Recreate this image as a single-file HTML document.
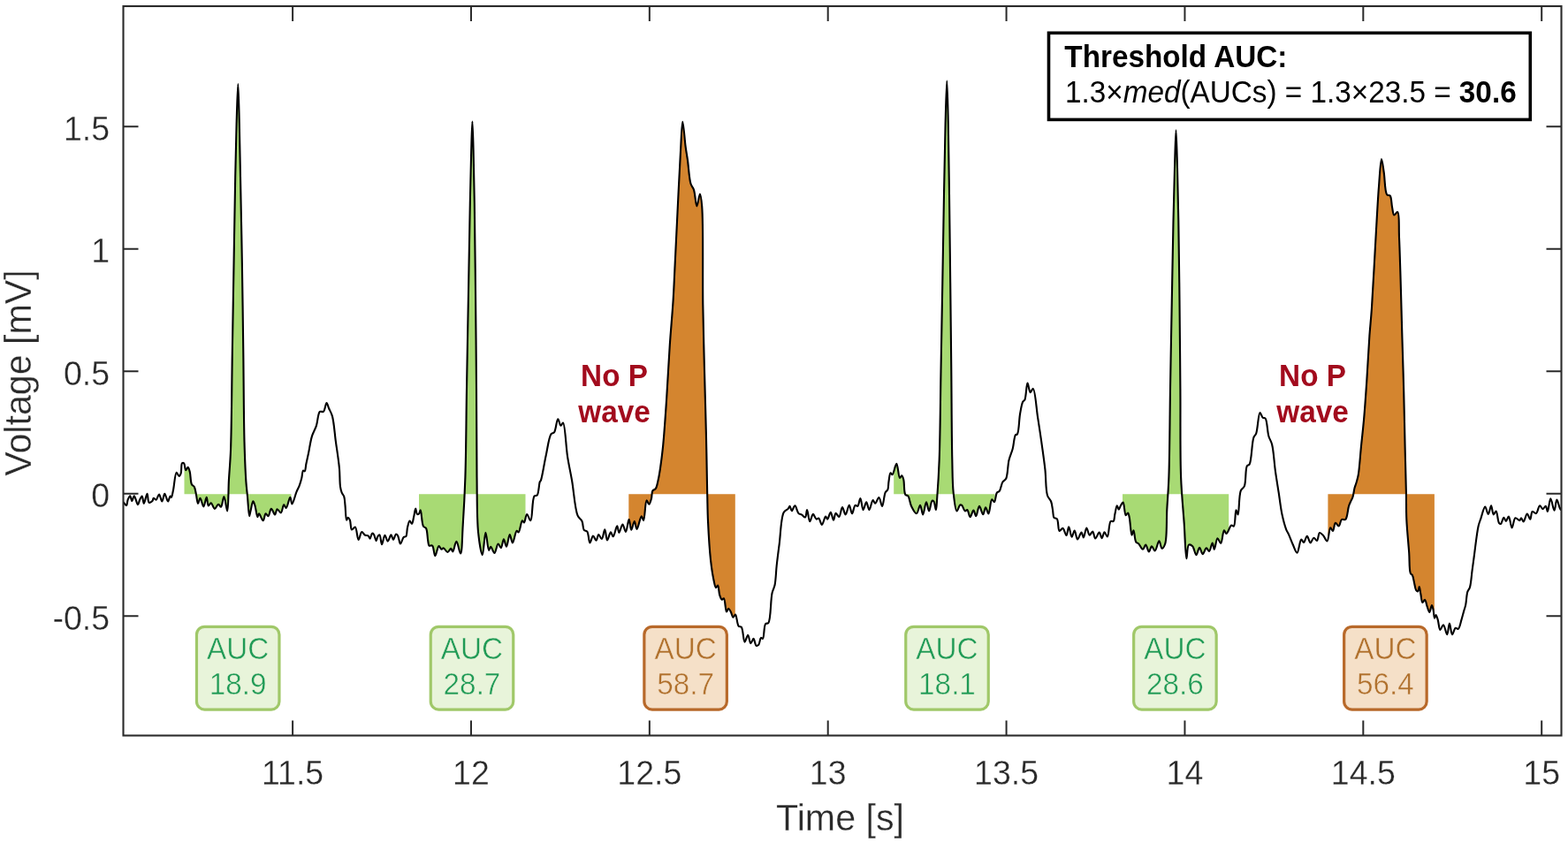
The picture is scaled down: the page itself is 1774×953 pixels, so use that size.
<!DOCTYPE html>
<html><head><meta charset="utf-8"><title>Threshold AUC</title>
<style>html,body{margin:0;padding:0;background:#fff;}body{width:1774px;height:953px;overflow:hidden;}svg{display:block;} text{font-family:"Liberation Sans",Arial,Helvetica,sans-serif;}</style>
</head><body>
<svg width="1774" height="953" viewBox="0 0 1774 953">
<rect x="0" y="0" width="1774" height="953" fill="#fff"/>
<defs>
<clipPath id="c0"><rect x="208.5" y="0" width="121" height="953"/></clipPath>
<clipPath id="c1"><rect x="474" y="0" width="120.5" height="953"/></clipPath>
<clipPath id="c2"><rect x="711.3" y="0" width="120.5" height="953"/></clipPath>
<clipPath id="c3"><rect x="1011.2" y="0" width="114.3" height="953"/></clipPath>
<clipPath id="c4"><rect x="1270" y="0" width="120.2" height="953"/></clipPath>
<clipPath id="c5"><rect x="1502.4" y="0" width="120.5" height="953"/></clipPath>
<clipPath id="ax"><rect x="139.5" y="7" width="1627" height="825.5"/></clipPath>
</defs>
<path clip-path="url(#c0)" d="M202.6,539C203.3,537.87 204.16,537.14 204.7,535.6C205.6,533 204.73,525.43 206,524.3C206.55,523.81 207.52,523.85 208.1,524.3C209.25,525.19 209.22,532.01 210.2,532.2C210.89,532.34 211.98,528.8 212.7,528.9C213.55,529.02 214.2,532.04 214.8,534.3C215.74,537.82 215.49,545.41 216.9,548.2C217.66,549.71 219.03,549.74 219.8,551.1C220.92,553.07 221.23,556.54 221.9,559.5C222.64,562.8 223.11,569.92 224,570C224.71,570.06 225.58,563.7 226.5,563.7C227.64,563.7 229.11,573.44 230.3,573.4C231.52,573.36 232.77,562.85 233.7,562.9C234.58,562.94 234.65,572.2 235.8,572.5C236.57,572.7 237.7,569.12 238.7,569.2C240.04,569.31 241.43,575.81 242.9,575.9C244.24,575.99 245.8,570.85 247.1,570.8C248.13,570.76 249.15,574.01 250,573.8C251.47,573.44 252.29,561.97 253.4,562C254.7,562.03 256.29,578.48 257.2,578.4C258.51,578.28 258.26,555.1 258.9,543.6C259.53,532.3 260.43,524.44 261,510C262.03,483.91 262.2,435.79 262.8,400C263.37,365.87 263.93,333.33 264.5,300C265.07,266.67 265.61,229.1 266.2,200C266.65,177.46 267.03,158.56 267.6,140C268.09,123.92 268.77,95 269.3,95C269.83,95 270.37,123.92 270.8,140C271.29,158.56 271.56,177.46 272,200C272.57,229.1 273.35,266.67 273.9,300C274.45,333.33 274.87,366.67 275.3,400C275.73,433.33 275.78,473.2 276.5,500C276.99,518.02 277.62,533.79 278.4,545.2C278.88,552.17 279.43,556.01 280,562C280.65,568.89 281.29,584.14 282.1,584.2C282.51,584.23 282.87,580.93 283.4,578.8C284.17,575.7 285.27,567.49 286.3,567.4C286.97,567.34 287.73,570.03 288.4,572C289.49,575.21 290.42,585.02 291.4,585.1C291.94,585.15 292.26,581.35 293,581.3C294.11,581.23 296.42,589.42 297.7,589.3C298.93,589.19 299.38,581.57 300.6,581.3C301.45,581.11 302.62,584.38 303.5,584.2C304.81,583.93 305.58,575.92 306.9,575.8C308.14,575.69 309.96,582.6 311.1,582.5C312.16,582.4 312.42,576.44 313.6,576.2C314.7,575.97 316.63,580.66 317.8,580.4C319.31,580.07 320.01,571.34 321.2,571.2C322.01,571.11 322.84,575.1 323.7,575C325.16,574.84 327.12,562.75 328.3,562.8C329.22,562.84 329.47,570.36 330.4,570.4C331.65,570.45 333.73,561.4 335.4,556.9L335.4,559.3 L202.6,559.3 Z" fill="#a8da74" stroke="none"/>
<path clip-path="url(#c1)" d="M466,592.8C466.7,590.3 467.44,587.97 468.1,585.3C468.85,582.28 469.5,575.62 470.2,575.6C470.77,575.59 470.92,581.28 471.9,581.9C472.46,582.25 473.43,581.97 474,581.5C474.83,580.81 475.14,577.24 475.7,577.3C476.84,577.42 477.09,592.81 479,595.8C479.84,597.12 481.21,596.63 482,597.9C483.56,600.4 483.5,608.38 484.2,612C484.65,614.3 484.46,616.78 485.5,617.6C486.32,618.25 488.12,616.85 489.1,617.6C490.9,618.97 491.06,629.14 492.3,629.2C493.53,629.26 494.97,618.36 496.5,618.1C497.48,617.93 498.62,621.69 499.6,621.8C500.33,621.88 500.89,620.14 501.7,620.2C502.99,620.29 504.95,625.04 506.4,625C507.73,624.97 509.09,620.7 510.1,620.8C510.97,620.88 511.46,624.47 512.2,624.4C513.47,624.29 514.98,612.89 516.4,612.9C517.94,612.91 519.93,626.65 521.1,626.5C522.85,626.28 522.91,606.59 523.7,594.5C524.73,578.74 525.71,560.91 526.4,540C527.33,511.69 527.42,474.13 528,440C528.61,404.21 529.35,365.79 530,330C530.62,295.87 531.2,259.1 531.8,230C532.27,207.46 532.69,186.96 533.2,170C533.58,157.52 534,137.5 534.4,137.5C534.8,137.5 535.24,157.52 535.6,170C536.08,186.96 536.44,207.46 536.8,230C537.27,259.1 537.64,295.87 538,330C538.38,365.79 538.75,404.21 539,440C539.24,474.13 539.05,510.5 539.5,540C539.86,563.42 539.39,586.8 541.1,603C542.19,613.31 544.42,628.13 545.8,628.1C547.18,628.07 548.11,602.93 549.4,602.9C550.56,602.88 551.72,622.7 553.1,622.9C553.77,622.99 554.35,618.72 555.2,618.7C556.34,618.67 558.09,626.09 559.4,626C560.92,625.89 562.14,615.66 563.6,615.5C564.64,615.39 565.86,620.34 566.8,620.2C568.07,620.01 568.83,610.33 569.9,610.3C570.9,610.28 571.99,618.75 573,618.7C574.27,618.64 575.45,605.04 576.7,605C577.75,604.97 578.73,614.5 579.9,614.5C581.31,614.5 582.98,601.29 584.6,600.8C585.29,600.59 586.03,602.61 586.7,602.4C588.24,601.92 589.43,589.66 590.9,589.3C591.58,589.13 592.35,591.56 593,591.4C594.19,591.12 594.81,582.13 596.1,582C597.29,581.88 598.9,586.87 600.3,589.3L600.3,559.3 L466,559.3 Z" fill="#a8da74" stroke="none"/>
<path clip-path="url(#c2)" d="M704.4,593.5C705.6,596.33 706.91,602.08 708,602C709.38,601.89 710.53,587.68 711.6,587.7C712.58,587.72 713.1,599.72 714.2,599.8C715.21,599.87 716.73,589.97 717.8,590C718.81,590.03 719.4,598.87 720.5,598.9C721.93,598.94 724.33,584.27 725.8,584.2C726.67,584.16 727.4,589.2 728.1,589.1C729.55,588.89 729.95,566.63 731.6,566.3C732.39,566.14 733.46,570.87 734.3,570.8C735.28,570.72 736.34,566.51 737,564.1C737.72,561.47 737.16,557.51 738.3,555.6C739.13,554.22 740.94,554.29 741.9,552.9C743.31,550.86 743.8,547.02 744.6,543.6C745.55,539.52 746.21,535.28 747,530C748.09,522.72 749.2,514.04 750.2,503.9C751.59,489.83 752.8,471.17 754,453.4C755.34,433.56 756.45,410.22 757.8,390.4C759,372.66 760.61,355.84 761.6,340C762.48,325.9 762.88,314.66 763.6,300C764.48,282.09 765.48,260.93 766.5,240.3C767.6,218.08 768.87,190.01 770,171.1C770.78,157.96 771.3,137.72 772.3,137.7C773.23,137.68 774.61,158.46 775.7,166.5C776.49,172.32 777.19,175.79 778,181.5C779.08,189.08 779.68,202.13 781.5,208C782.48,211.16 784.01,211.95 785,214.9C786.55,219.49 787.16,233.36 788.4,233.4C789.48,233.44 790.93,219.46 791.9,219.5C792.86,219.54 793.6,226.52 794.2,233.4C795.89,252.74 794.77,311.77 795.3,344.7C795.73,370.99 796.31,391.59 796.9,415.6C797.51,440.4 798.34,466.66 798.9,491.2C799.43,514.49 799.79,541.08 800.2,559.3C800.48,571.51 800.47,578.79 801,589.9C801.63,603.2 802.68,621.61 804,633.7C804.94,642.31 806.05,649.92 807.3,655.7C808.13,659.55 808.91,664.98 810,665.2C810.64,665.33 811.51,662.45 812.1,662.6C813.18,662.87 813.21,670.67 814.2,673.6C814.91,675.71 815.82,678.56 816.8,678.8C817.45,678.96 818.28,677.06 818.9,677.3C820.42,677.9 820.77,692.3 822,692.5C822.65,692.6 823.32,688.84 824.1,688.8C824.91,688.75 825.99,691.05 826.8,692.5C827.79,694.27 828.39,698.65 829.4,698.8C830.18,698.91 831.2,695.43 832,695.6C833.46,695.9 833.87,706.9 835.7,708.8C836.59,709.73 837.77,709.47 838.8,709.8L838.8,559.3 L704.4,559.3 Z" fill="#d4852f" stroke="none"/>
<path clip-path="url(#c3)" d="M1004.4,554.1C1004.73,551.3 1004.93,548.65 1005.4,545.7C1005.93,542.39 1006.39,535.54 1007.5,535.2C1008.09,535.02 1008.89,537.45 1009.6,537.3C1011.11,536.97 1012.95,524.61 1014.3,524.7C1015.8,524.8 1016.55,540.68 1018,541C1018.66,541.15 1019.45,538.24 1020.1,538.3C1020.86,538.38 1021.62,540.56 1022.2,542.5C1023.33,546.25 1022.49,557.19 1024.3,559.8C1025.11,560.97 1026.5,560.33 1027.4,561.4C1029.09,563.4 1029.4,569.57 1031.1,573C1032.65,576.13 1035.24,581.46 1036.9,581.3C1038.58,581.14 1039.9,571.82 1041.1,571.9C1042.34,571.98 1043.14,582.41 1044.2,582.4C1045.43,582.38 1046.76,568.22 1048,568.2C1049.06,568.18 1050.04,578.5 1051.1,578.5C1052.23,578.5 1053.19,567.3 1054.6,566.7C1055.19,566.45 1055.95,567 1056.5,567.7C1057.67,569.18 1058.29,577.15 1058.9,577.1C1059.65,577.04 1059.83,568.64 1060.3,562.5C1061.1,552.04 1062.06,537.16 1062.7,520C1063.68,493.7 1063.9,453.33 1064.5,420C1065.1,386.67 1065.72,353.33 1066.3,320C1066.88,286.67 1067.42,251.48 1068,220C1068.52,191.85 1068.96,163.35 1069.6,140C1070.1,121.82 1070.77,91.5 1071.3,91.5C1071.83,91.5 1072.38,121.82 1072.8,140C1073.34,163.35 1073.62,191.85 1074,220C1074.42,251.48 1074.82,286.67 1075.2,320C1075.58,353.33 1075.95,386.67 1076.3,420C1076.65,453.33 1076.7,494.62 1077.3,520C1077.67,535.61 1077.53,547.12 1078.7,557.8C1079.57,565.77 1080.74,578.22 1082.5,578.5C1083.58,578.67 1085.02,572.09 1086.3,571.5C1086.93,571.21 1087.57,571.44 1088.2,571.9C1089.44,572.81 1090.61,578.15 1091.9,578.5C1092.68,578.71 1093.56,576.85 1094.3,577.1C1095.6,577.54 1096.41,585.15 1097.6,585.2C1098.78,585.25 1100.26,577.56 1101.4,577.6C1102.44,577.63 1103.25,584.24 1104.2,584.2C1105.43,584.15 1106.61,572.97 1108,572.9C1109.29,572.84 1110.98,582.34 1112.2,582.3C1113.31,582.26 1114.04,574.35 1115.1,574.3C1116.12,574.26 1117.39,581.5 1118.4,581.4C1119.86,581.25 1120.52,565.76 1122.2,565.3C1123.03,565.07 1124.2,568.41 1125,568.2C1126.3,567.86 1126.38,559.77 1127.8,557.8C1128.61,556.68 1129.73,556.53 1130.7,555.9L1130.7,559.3 L1004.4,559.3 Z" fill="#a8da74" stroke="none"/>
<path clip-path="url(#c4)" d="M1263.8,572.3C1264.47,573.77 1265.12,576.69 1265.8,576.7C1266.48,576.71 1267.09,573.68 1267.9,572.3C1268.69,570.95 1269.82,568.34 1270.6,568.5C1272.01,568.79 1272.27,582.82 1273.7,583.2C1274.4,583.39 1275.45,580.36 1276.1,580.5C1276.91,580.67 1277.26,583.5 1277.8,585.9C1278.81,590.4 1279.38,605.58 1280.5,605.7C1281.1,605.76 1281.86,600.15 1282.5,600.2C1283.47,600.27 1283.61,611.01 1285.2,613.4C1286.04,614.66 1287.25,614.49 1288.3,615.5C1289.83,616.96 1291.62,621.86 1293,621.8C1294.21,621.75 1295.15,616.54 1296.2,616.6C1297.46,616.67 1298.71,624.49 1299.9,624.5C1300.97,624.51 1301.83,618.29 1303,618.2C1304.11,618.11 1305.5,623.53 1306.7,623.4C1308.34,623.22 1310.01,612.37 1311.4,612.4C1312.6,612.42 1313.34,620.65 1314.6,620.8C1315.66,620.92 1317.26,618.27 1318.2,615.5C1320.5,608.67 1319.59,589.45 1320.3,576.7C1320.99,564.3 1321.84,555.24 1322.4,540C1323.32,514.86 1323.43,473.33 1324,440C1324.57,406.67 1325.2,372.46 1325.8,340C1326.37,309.21 1326.91,276.97 1327.5,250C1327.98,227.98 1328.45,208.3 1329,190C1329.46,174.56 1330,147.3 1330.5,147.3C1331,147.3 1331.56,174.56 1332,190C1332.52,208.3 1332.91,227.98 1333.3,250C1333.77,276.97 1334.16,309.21 1334.5,340C1334.86,372.46 1335.13,406.67 1335.4,440C1335.67,473.33 1335.04,512 1336.1,540C1336.87,560.31 1338.59,576.21 1339.7,592.5C1340.67,606.68 1341.21,632.24 1342.4,632.3C1343.15,632.34 1342.98,617.76 1345,616.6C1346.07,615.98 1347.99,617.04 1349.2,618.2C1351.06,620 1352.03,628.09 1353.4,628.1C1354.66,628.11 1355.85,619.72 1357.1,619.7C1358.28,619.68 1359.39,627.03 1360.7,627.1C1361.99,627.16 1363.51,620.42 1364.9,620.3C1365.98,620.21 1367.13,624.08 1368.1,623.9C1369.5,623.64 1370.71,614.46 1371.7,614.5C1372.56,614.54 1373,621.8 1373.8,621.8C1374.86,621.8 1375.99,609.41 1377.5,609.2C1378.59,609.05 1380.13,615.17 1381.2,615C1382.79,614.74 1383.44,600.57 1384.9,600.3C1385.7,600.15 1386.5,604.03 1387.5,604C1389.07,603.95 1391.39,595.23 1393.2,594.6C1394.12,594.28 1395,595.27 1395.9,595.6L1395.9,559.3 L1263.8,559.3 Z" fill="#a8da74" stroke="none"/>
<path clip-path="url(#c5)" d="M1497,606C1498.5,608.17 1500.26,612.73 1501.5,612.5C1503.24,612.18 1503.65,597.73 1505.2,597.4C1506.04,597.22 1507.18,601.15 1508,601C1509.2,600.78 1509.51,592.04 1510.9,591.7C1511.93,591.45 1513.6,595.71 1514.7,595.5C1516.06,595.25 1516.39,589.08 1518,588C1519.17,587.22 1521.14,588.83 1522.3,587.9C1524.51,586.12 1524.82,576.4 1526,572.8C1526.68,570.72 1527.28,569.65 1528,568C1528.77,566.22 1529.8,564.67 1530.5,562.5C1531.43,559.6 1531.79,555.03 1532.6,552C1533.23,549.61 1534.04,547.96 1534.7,545.7C1535.45,543.11 1536.15,541.02 1536.8,537.3C1538.03,530.19 1538.85,516.37 1539.9,505.9C1540.95,495.41 1542.11,485.66 1543.1,474.4C1544.24,461.41 1545.2,447.18 1546.2,432.4C1547.31,415.9 1548.32,395.13 1549.4,380C1550.23,368.43 1551.02,362.03 1551.9,349.4C1553.32,328.9 1555.05,293.34 1556.5,268.7C1557.73,247.88 1558.72,227.36 1560,211.1C1560.94,199.14 1561.83,180.05 1563,180C1563.82,179.97 1564.8,189.34 1565.7,195C1566.87,202.33 1566.66,217.21 1569.2,220.3C1570.17,221.47 1571.8,220.45 1572.7,221.5C1574.39,223.46 1574.16,230.32 1575,234.2C1575.72,237.53 1575.97,242.99 1577.3,243.4C1578.29,243.7 1580.21,239.5 1581.2,239.9C1583.52,240.85 1582.41,255.88 1583,268.7C1584.19,294.41 1585.55,352.63 1586.5,384.7C1587.17,407.41 1587.69,423.11 1588.2,442.9C1588.73,463.48 1589.13,485.87 1589.6,505.9C1590.03,524.17 1590.61,543.32 1590.9,558.3C1591.12,569.54 1590.83,577.37 1591.3,587.8C1591.83,599.63 1593.39,614.52 1594.2,625.6C1594.83,634.3 1594.21,645.41 1595.8,648.9C1596.37,650.14 1597.31,649.95 1597.9,651C1598.91,652.79 1599.3,656.6 1600,659.4C1600.7,662.2 1601.03,666.18 1602.1,667.8C1602.69,668.69 1603.64,669.59 1604.2,669.4C1605,669.13 1605.23,664.08 1605.7,664.1C1606.27,664.12 1606.73,669.21 1607.3,672C1607.95,675.14 1608.29,681.73 1609.4,682C1610.1,682.17 1611.23,678.66 1612,678.8C1613.1,679 1613.77,684.23 1614.7,686.7C1615.54,688.93 1616.47,693.03 1617.3,693C1618.21,692.97 1619.13,685.1 1619.9,685.1C1620.49,685.1 1621.03,687.92 1621.5,689.8C1622.17,692.49 1622.41,699.72 1623.1,699.8C1623.54,699.85 1624.06,696.1 1624.6,696.1C1625.24,696.1 1626.03,699.27 1626.7,701.4C1627.66,704.47 1628.5,709.07 1629.4,712.9L1629.4,559.3 L1497,559.3 Z" fill="#d4852f" stroke="none"/>
<path clip-path="url(#ax)" d="M139.8,568.7C140.87,569.83 142.2,572.31 143,572.1C143.97,571.85 143.9,567.32 144.7,565.4C145.37,563.78 146.47,561.13 147.2,561.2C148.03,561.28 148.54,567.08 149.3,567.1C150.07,567.12 150.86,561.2 151.8,561.2C153.02,561.2 154.86,571.32 156,571.3C156.84,571.29 157.27,567.47 158.1,565.8C158.86,564.27 159.98,561.49 160.7,561.6C161.65,561.75 161.94,569.97 162.8,570C163.81,570.04 165.51,558.65 166.5,558.7C167.41,558.75 167.11,567.92 168.6,568.7C169.55,569.2 171.55,567.98 172.4,567.1C173.2,566.27 172.99,563.91 173.7,563.7C174.4,563.49 175.7,566.01 176.6,565.8C177.87,565.51 178.93,559.44 180,559.5C181.18,559.56 182.27,567.53 183.3,567.5C184.37,567.47 185.19,558.74 186.3,558.7C187.42,558.66 188.86,567.49 190,567.5C190.93,567.51 191.8,561.73 192.6,561.6C193.02,561.53 193.42,562.99 193.8,562.9C194.6,562.71 195.17,558.47 195.9,555.3C197.09,550.15 197.97,535.17 199.7,534.8C200.55,534.62 201.73,539.02 202.6,539C203.37,538.98 204.16,537.14 204.7,535.6C205.6,533 204.73,525.43 206,524.3C206.55,523.81 207.52,523.85 208.1,524.3C209.25,525.19 209.22,532.01 210.2,532.2C210.89,532.34 211.98,528.8 212.7,528.9C213.55,529.02 214.2,532.04 214.8,534.3C215.74,537.82 215.49,545.41 216.9,548.2C217.66,549.71 219.03,549.74 219.8,551.1C220.92,553.07 221.23,556.54 221.9,559.5C222.64,562.8 223.11,569.92 224,570C224.71,570.06 225.58,563.7 226.5,563.7C227.64,563.7 229.11,573.44 230.3,573.4C231.52,573.36 232.77,562.85 233.7,562.9C234.58,562.94 234.65,572.2 235.8,572.5C236.57,572.7 237.7,569.12 238.7,569.2C240.04,569.31 241.43,575.81 242.9,575.9C244.24,575.99 245.8,570.85 247.1,570.8C248.13,570.76 249.15,574.01 250,573.8C251.47,573.44 252.29,561.97 253.4,562C254.7,562.03 256.29,578.48 257.2,578.4C258.51,578.28 258.26,555.1 258.9,543.6C259.53,532.3 260.43,524.44 261,510C262.03,483.91 262.2,435.79 262.8,400C263.37,365.87 263.93,333.33 264.5,300C265.07,266.67 265.61,229.1 266.2,200C266.65,177.46 267.03,158.56 267.6,140C268.09,123.92 268.77,95 269.3,95C269.83,95 270.37,123.92 270.8,140C271.29,158.56 271.56,177.46 272,200C272.57,229.1 273.35,266.67 273.9,300C274.45,333.33 274.87,366.67 275.3,400C275.73,433.33 275.78,473.2 276.5,500C276.99,518.02 277.62,533.79 278.4,545.2C278.88,552.17 279.43,556.01 280,562C280.65,568.89 281.29,584.14 282.1,584.2C282.51,584.23 282.87,580.93 283.4,578.8C284.17,575.7 285.27,567.49 286.3,567.4C286.97,567.34 287.73,570.03 288.4,572C289.49,575.21 290.42,585.02 291.4,585.1C291.94,585.15 292.26,581.35 293,581.3C294.11,581.23 296.42,589.42 297.7,589.3C298.93,589.19 299.38,581.57 300.6,581.3C301.45,581.11 302.62,584.38 303.5,584.2C304.81,583.93 305.58,575.92 306.9,575.8C308.14,575.69 309.96,582.6 311.1,582.5C312.16,582.4 312.42,576.44 313.6,576.2C314.7,575.97 316.63,580.66 317.8,580.4C319.31,580.07 320.01,571.34 321.2,571.2C322.01,571.11 322.84,575.1 323.7,575C325.16,574.84 327.12,562.75 328.3,562.8C329.22,562.84 329.47,570.36 330.4,570.4C331.65,570.45 333.83,560.72 335.4,556.9C336.59,554.01 337.83,552.01 338.8,549.4C339.8,546.71 340.6,543.82 341.3,541C341.99,538.22 341.99,533.11 343,532.6C343.47,532.36 344.23,533.64 344.7,533.4C345.71,532.89 345.76,528.05 346.4,525C347.16,521.35 348.06,517.47 349,513C350.18,507.37 351.19,499.46 352.9,493.9C354.29,489.36 356.46,486.25 357.9,481.9C359.52,477.01 359.65,467.66 361.9,465.9C363.01,465.03 364.79,466.68 365.9,465.9C367.7,464.64 368.38,456.03 369.5,456C370.38,455.98 371.06,459.81 372,462C373.15,464.68 374.79,466.98 375.9,470.9C377.82,477.68 378.58,490.08 379.9,499.8C381.25,509.7 383.05,520.67 383.9,529.8C384.61,537.41 384.24,545.75 385,550.8C385.44,553.72 385.9,555.65 386.7,557.6C387.37,559.22 388.58,560.02 389.2,561.8C390.08,564.35 390.08,568.03 390.5,571.8C391.05,576.67 391.06,588.37 392.1,588.6C392.57,588.7 393.18,585.73 393.8,585.7C394.44,585.67 395.31,587.24 395.9,588.6C396.94,591 396.56,598.95 398,599.5C398.95,599.86 400.73,596.23 401.8,596.6C403.68,597.24 404.18,610.8 405.6,610.9C406.74,610.98 407.8,602.4 409.3,602.1C410.42,601.87 411.76,605.14 413.1,605.8C414.18,606.34 415.6,605.72 416.5,606.3C417.46,606.92 417.92,609.66 418.6,609.6C419.47,609.53 420.14,604.04 421.1,603.7C421.63,603.51 422.26,604 422.8,604.6C423.9,605.83 424.88,612.12 425.7,612.1C426.36,612.09 426.59,608.26 427.4,607.1C427.98,606.27 428.9,605.19 429.5,605.4C430.73,605.82 431.01,616.26 432,616.3C432.98,616.34 434.16,605.89 435.4,605.8C436.43,605.73 437.54,612.58 438.7,612.6C439.9,612.62 441.39,605.37 442.5,605.4C443.45,605.43 444.12,610.89 445,610.9C445.95,610.91 446.92,604.84 448,604.6C448.67,604.45 449.47,605.37 450.1,606.3C451.3,608.06 451.84,615.41 453,615.5C454.09,615.59 455.38,609.11 456.8,607.9C457.59,607.23 458.65,607.85 459.3,607.1C460.58,605.62 460.23,600.09 461,597C461.68,594.29 462.48,589.67 463.5,589.5C464.24,589.38 465.3,592.93 466,592.8C466.96,592.62 467.44,587.97 468.1,585.3C468.85,582.28 469.5,575.62 470.2,575.6C470.77,575.59 470.92,581.28 471.9,581.9C472.46,582.25 473.43,581.97 474,581.5C474.83,580.81 475.14,577.24 475.7,577.3C476.84,577.42 477.09,592.81 479,595.8C479.84,597.12 481.21,596.63 482,597.9C483.56,600.4 483.5,608.38 484.2,612C484.65,614.3 484.46,616.78 485.5,617.6C486.32,618.25 488.12,616.85 489.1,617.6C490.9,618.97 491.06,629.14 492.3,629.2C493.53,629.26 494.97,618.36 496.5,618.1C497.48,617.93 498.62,621.69 499.6,621.8C500.33,621.88 500.89,620.14 501.7,620.2C502.99,620.29 504.95,625.04 506.4,625C507.73,624.97 509.09,620.7 510.1,620.8C510.97,620.88 511.46,624.47 512.2,624.4C513.47,624.29 514.98,612.89 516.4,612.9C517.94,612.91 519.93,626.65 521.1,626.5C522.85,626.28 522.91,606.59 523.7,594.5C524.73,578.74 525.71,560.91 526.4,540C527.33,511.69 527.42,474.13 528,440C528.61,404.21 529.35,365.79 530,330C530.62,295.87 531.2,259.1 531.8,230C532.27,207.46 532.69,186.96 533.2,170C533.58,157.52 534,137.5 534.4,137.5C534.8,137.5 535.24,157.52 535.6,170C536.08,186.96 536.44,207.46 536.8,230C537.27,259.1 537.64,295.87 538,330C538.38,365.79 538.75,404.21 539,440C539.24,474.13 539.05,510.5 539.5,540C539.86,563.42 539.39,586.8 541.1,603C542.19,613.31 544.42,628.13 545.8,628.1C547.18,628.07 548.11,602.93 549.4,602.9C550.56,602.88 551.72,622.7 553.1,622.9C553.77,622.99 554.35,618.72 555.2,618.7C556.34,618.67 558.09,626.09 559.4,626C560.92,625.89 562.14,615.66 563.6,615.5C564.64,615.39 565.86,620.34 566.8,620.2C568.07,620.01 568.83,610.33 569.9,610.3C570.9,610.28 571.99,618.75 573,618.7C574.27,618.64 575.45,605.04 576.7,605C577.75,604.97 578.73,614.5 579.9,614.5C581.31,614.5 582.98,601.29 584.6,600.8C585.29,600.59 586.03,602.61 586.7,602.4C588.24,601.92 589.43,589.66 590.9,589.3C591.58,589.13 592.35,591.56 593,591.4C594.19,591.12 594.81,582.13 596.1,582C597.29,581.88 599.12,589.52 600.3,589.3C602.45,588.9 601.84,564.6 604.5,561.5C605.42,560.43 606.82,561.48 607.7,560.5C609.6,558.39 609.75,547.39 610.8,545.2C611.13,544.51 611.44,544.74 611.8,544C613.34,540.8 615.65,524.53 617.7,515.4C619.6,506.95 620.96,494.42 623.6,491.1C624.63,489.81 626.01,490.6 627,489.4C629,486.97 629.73,474.41 631.2,474.3C632.26,474.22 633.36,481.67 634.5,481.8C635.31,481.9 636.24,478.3 637,478.5C639.35,479.12 640.24,505.41 642.1,517.1C643.66,526.9 645.38,534.15 647.1,544C649.19,555.94 650.4,576.36 653.6,583.7C655.03,586.97 657.33,587.52 658.5,590C659.81,592.79 659.25,597.95 660.7,599.8C661.61,600.97 663.32,600.37 664.3,601.6C666.07,603.83 666.12,614.38 667.4,614.5C668.44,614.6 669.71,606.6 671,606.5C672.1,606.41 673.49,611.9 674.5,611.8C675.58,611.69 676.09,605.24 677.2,605.1C678.22,604.97 679.75,610.17 680.8,610C682.24,609.77 683.28,599.25 684.3,599.3C685.37,599.35 685.78,611.28 687,611.4C688.08,611.51 689.75,602.45 691,602.4C691.95,602.36 692.76,607.37 693.7,607.3C695.12,607.2 697.02,595.25 698.2,595.3C699.13,595.34 699.46,602.84 700.4,602.9C701.47,602.96 703.1,593.5 704.4,593.5C705.63,593.5 706.91,602.08 708,602C709.38,601.89 710.53,587.68 711.6,587.7C712.58,587.72 713.1,599.72 714.2,599.8C715.21,599.87 716.73,589.97 717.8,590C718.81,590.03 719.4,598.87 720.5,598.9C721.93,598.94 724.33,584.27 725.8,584.2C726.67,584.16 727.4,589.2 728.1,589.1C729.55,588.89 729.95,566.63 731.6,566.3C732.39,566.14 733.46,570.87 734.3,570.8C735.28,570.72 736.34,566.51 737,564.1C737.72,561.47 737.16,557.51 738.3,555.6C739.13,554.22 740.94,554.29 741.9,552.9C743.31,550.86 743.8,547.02 744.6,543.6C745.55,539.52 746.21,535.28 747,530C748.09,522.72 749.2,514.04 750.2,503.9C751.59,489.83 752.8,471.17 754,453.4C755.34,433.56 756.45,410.22 757.8,390.4C759,372.66 760.61,355.84 761.6,340C762.48,325.9 762.88,314.66 763.6,300C764.48,282.09 765.48,260.93 766.5,240.3C767.6,218.08 768.87,190.01 770,171.1C770.78,157.96 771.3,137.72 772.3,137.7C773.23,137.68 774.61,158.46 775.7,166.5C776.49,172.32 777.19,175.79 778,181.5C779.08,189.08 779.68,202.13 781.5,208C782.48,211.16 784.01,211.95 785,214.9C786.55,219.49 787.16,233.36 788.4,233.4C789.48,233.44 790.93,219.46 791.9,219.5C792.86,219.54 793.6,226.52 794.2,233.4C795.89,252.74 794.77,311.77 795.3,344.7C795.73,370.99 796.31,391.59 796.9,415.6C797.51,440.4 798.34,466.66 798.9,491.2C799.43,514.49 799.79,541.08 800.2,559.3C800.48,571.51 800.47,578.79 801,589.9C801.63,603.2 802.68,621.61 804,633.7C804.94,642.31 806.05,649.92 807.3,655.7C808.13,659.55 808.91,664.98 810,665.2C810.64,665.33 811.51,662.45 812.1,662.6C813.18,662.87 813.21,670.67 814.2,673.6C814.91,675.71 815.82,678.56 816.8,678.8C817.45,678.96 818.28,677.06 818.9,677.3C820.42,677.9 820.77,692.3 822,692.5C822.65,692.6 823.32,688.84 824.1,688.8C824.91,688.75 825.99,691.05 826.8,692.5C827.79,694.27 828.39,698.65 829.4,698.8C830.18,698.91 831.2,695.43 832,695.6C833.46,695.9 833.87,706.9 835.7,708.8C836.59,709.73 837.92,708.83 838.8,709.8C840.83,712.03 840.98,726.43 842.5,726.6C843.59,726.72 845.1,718.63 846.2,718.7C847.38,718.77 848.09,728.06 849.3,728.2C850.26,728.31 851.52,722.82 852.5,722.9C853.65,723 854.24,730.19 855.6,730.8C856.39,731.15 857.54,730.58 858.3,729.8C859.58,728.47 859.73,722.4 860.9,721.9C861.52,721.64 862.39,723.21 863,722.9C864.66,722.05 864.11,708.34 866.1,706.1C866.98,705.11 868.38,706.2 869.3,705.1C872.21,701.61 871.77,679.22 873.5,671.5C874.44,667.31 875.79,665.88 876.6,662C877.8,656.24 877.88,647.5 878.7,640C879.56,632.12 880.53,624.65 881.7,615.8C883.12,605 883.45,585.68 886.7,579.9C888.06,577.49 890.39,577.23 891.6,575.9C892.51,574.9 892.97,572.84 893.6,572.9C894.39,572.98 894.89,578.13 895.8,578.2C896.79,578.28 898.22,572.33 899.4,572.4C900.82,572.48 901.94,579.81 903.6,581.3C904.58,582.17 905.71,581.83 906.8,582.4C908.16,583.11 909.97,585.87 911,585.5C912.32,585.03 912.34,577.09 913.1,577.1C914.05,577.11 914.91,590.18 916.2,590.3C917.26,590.4 918.56,582.01 919.9,581.9C921.05,581.81 922.29,587.18 923.6,587.6C924.44,587.87 925.39,586.29 926.2,586.6C927.59,587.14 928.66,593.93 929.9,593.9C931.29,593.87 932.85,584.61 934.1,584.5C934.85,584.43 935.46,587.66 936.2,587.6C937.32,587.51 938.69,579.75 939.8,579.8C940.97,579.85 942.01,588.71 943,588.7C943.93,588.69 944.38,581.05 945.6,580.8C946.6,580.6 948.22,585.22 949.3,585C950.85,584.69 951.7,574.05 953,574C954.15,573.95 955.37,582.41 956.6,582.4C957.97,582.38 959.54,571.87 960.8,571.9C961.99,571.93 962.87,581.28 964,581.3C965.14,581.32 966.09,572.55 967.6,571.9C968.41,571.55 969.52,573.36 970.3,573C971.72,572.36 972.43,563.96 973.4,564C974.56,564.05 975.34,577.01 976.6,577.1C977.66,577.18 979.06,568.18 980.2,568.2C981.33,568.22 982.24,577.09 983.4,577.1C984.69,577.11 986.2,566.27 987.6,566.1C988.47,565.99 989.25,569.83 990.2,569.8C991.46,569.76 993.15,562.88 994.4,563C995.84,563.14 996.98,573.07 998.1,573C999.48,572.91 1000.11,560.33 1001.7,557.2C1002.5,555.62 1003.77,555.51 1004.4,554.1C1005.3,552.08 1004.93,548.65 1005.4,545.7C1005.93,542.39 1006.39,535.54 1007.5,535.2C1008.09,535.02 1008.89,537.45 1009.6,537.3C1011.11,536.97 1012.95,524.61 1014.3,524.7C1015.8,524.8 1016.55,540.68 1018,541C1018.66,541.15 1019.45,538.24 1020.1,538.3C1020.86,538.38 1021.62,540.56 1022.2,542.5C1023.33,546.25 1022.49,557.19 1024.3,559.8C1025.11,560.97 1026.5,560.33 1027.4,561.4C1029.09,563.4 1029.4,569.57 1031.1,573C1032.65,576.13 1035.24,581.46 1036.9,581.3C1038.58,581.14 1039.9,571.82 1041.1,571.9C1042.34,571.98 1043.14,582.41 1044.2,582.4C1045.43,582.38 1046.76,568.22 1048,568.2C1049.06,568.18 1050.04,578.5 1051.1,578.5C1052.23,578.5 1053.19,567.3 1054.6,566.7C1055.19,566.45 1055.95,567 1056.5,567.7C1057.67,569.18 1058.29,577.15 1058.9,577.1C1059.65,577.04 1059.83,568.64 1060.3,562.5C1061.1,552.04 1062.06,537.16 1062.7,520C1063.68,493.7 1063.9,453.33 1064.5,420C1065.1,386.67 1065.72,353.33 1066.3,320C1066.88,286.67 1067.42,251.48 1068,220C1068.52,191.85 1068.96,163.35 1069.6,140C1070.1,121.82 1070.77,91.5 1071.3,91.5C1071.83,91.5 1072.38,121.82 1072.8,140C1073.34,163.35 1073.62,191.85 1074,220C1074.42,251.48 1074.82,286.67 1075.2,320C1075.58,353.33 1075.95,386.67 1076.3,420C1076.65,453.33 1076.7,494.62 1077.3,520C1077.67,535.61 1077.53,547.12 1078.7,557.8C1079.57,565.77 1080.74,578.22 1082.5,578.5C1083.58,578.67 1085.02,572.09 1086.3,571.5C1086.93,571.21 1087.57,571.44 1088.2,571.9C1089.44,572.81 1090.61,578.15 1091.9,578.5C1092.68,578.71 1093.56,576.85 1094.3,577.1C1095.6,577.54 1096.41,585.15 1097.6,585.2C1098.78,585.25 1100.26,577.56 1101.4,577.6C1102.44,577.63 1103.25,584.24 1104.2,584.2C1105.43,584.15 1106.61,572.97 1108,572.9C1109.29,572.84 1110.98,582.34 1112.2,582.3C1113.31,582.26 1114.04,574.35 1115.1,574.3C1116.12,574.26 1117.39,581.5 1118.4,581.4C1119.86,581.25 1120.52,565.76 1122.2,565.3C1123.03,565.07 1124.2,568.41 1125,568.2C1126.3,567.86 1126.38,559.77 1127.8,557.8C1128.61,556.68 1129.83,557 1130.7,555.9C1132.25,553.93 1132.82,547.99 1134.4,545.5C1135.5,543.76 1137.17,543.72 1138.2,541.7C1140.24,537.68 1140.03,526.76 1141.5,520.7C1142.67,515.91 1144.5,512.57 1145.7,508.1C1147.01,503.19 1147.29,494.54 1148.9,492.4C1149.52,491.58 1150.39,492.17 1151,491.3C1152.91,488.57 1152.87,474.86 1154.1,468.2C1155.05,463.04 1155.92,457.07 1157.3,454.6C1157.93,453.46 1158.78,453.7 1159.4,452.5C1160.97,449.44 1161.25,433.68 1162.5,433.6C1163.44,433.54 1164.38,443.87 1165.7,444.1C1166.61,444.26 1167.86,439.67 1168.8,439.9C1171.16,440.47 1172.48,462.03 1174.1,472.4C1175.59,481.89 1176.86,490.27 1178.2,499.7C1179.63,509.82 1181.26,520.86 1182.4,531.2C1183.5,541.18 1182.97,554.46 1185,560.7C1186.05,563.93 1188.1,564.9 1189.1,567.5C1190.25,570.47 1190.51,574.48 1191.1,577.7C1191.63,580.58 1191.29,584.39 1192.5,585.9C1193.3,586.91 1194.99,586.2 1195.9,587.3C1197.66,589.44 1196.92,600.28 1198.6,600.9C1199.59,601.27 1201.25,597.65 1202.4,597.9C1203.98,598.25 1205.38,606.11 1206.5,606C1207.68,605.88 1208.23,596.21 1209.2,596.2C1210.25,596.19 1211.38,607.62 1212.6,607.7C1213.58,607.76 1214.69,600.56 1215.7,600.6C1216.87,600.65 1217.74,610.38 1219.1,610.5C1220.37,610.61 1222.31,602.53 1223.5,602.6C1224.49,602.66 1225.08,608.44 1225.9,608.4C1227,608.35 1228.09,597.56 1229.3,597.5C1230.37,597.45 1231.36,605.49 1232.7,605.7C1233.74,605.86 1235.2,601.43 1236.2,601.6C1237.46,601.82 1237.94,609.36 1239.2,609.5C1240.45,609.63 1242.42,602.51 1243.7,602.6C1244.89,602.69 1245.74,609.12 1246.7,609.1C1247.67,609.08 1248.41,602.41 1249.5,602.3C1250.5,602.2 1251.92,607.59 1252.9,607.4C1254.57,607.08 1254.49,591.71 1256.6,590C1257.48,589.29 1258.93,590.63 1259.7,590C1260.97,588.97 1260.75,584.63 1261.4,581.8C1262.1,578.74 1262.91,572.38 1263.8,572.3C1264.42,572.24 1265.12,576.69 1265.8,576.7C1266.48,576.71 1267.09,573.68 1267.9,572.3C1268.69,570.95 1269.82,568.34 1270.6,568.5C1272.01,568.79 1272.27,582.82 1273.7,583.2C1274.4,583.39 1275.45,580.36 1276.1,580.5C1276.91,580.67 1277.26,583.5 1277.8,585.9C1278.81,590.4 1279.38,605.58 1280.5,605.7C1281.1,605.76 1281.86,600.15 1282.5,600.2C1283.47,600.27 1283.61,611.01 1285.2,613.4C1286.04,614.66 1287.25,614.49 1288.3,615.5C1289.83,616.96 1291.62,621.86 1293,621.8C1294.21,621.75 1295.15,616.54 1296.2,616.6C1297.46,616.67 1298.71,624.49 1299.9,624.5C1300.97,624.51 1301.83,618.29 1303,618.2C1304.11,618.11 1305.5,623.53 1306.7,623.4C1308.34,623.22 1310.01,612.37 1311.4,612.4C1312.6,612.42 1313.34,620.65 1314.6,620.8C1315.66,620.92 1317.26,618.27 1318.2,615.5C1320.5,608.67 1319.59,589.45 1320.3,576.7C1320.99,564.3 1321.84,555.24 1322.4,540C1323.32,514.86 1323.43,473.33 1324,440C1324.57,406.67 1325.2,372.46 1325.8,340C1326.37,309.21 1326.91,276.97 1327.5,250C1327.98,227.98 1328.45,208.3 1329,190C1329.46,174.56 1330,147.3 1330.5,147.3C1331,147.3 1331.56,174.56 1332,190C1332.52,208.3 1332.91,227.98 1333.3,250C1333.77,276.97 1334.16,309.21 1334.5,340C1334.86,372.46 1335.13,406.67 1335.4,440C1335.67,473.33 1335.04,512 1336.1,540C1336.87,560.31 1338.59,576.21 1339.7,592.5C1340.67,606.68 1341.21,632.24 1342.4,632.3C1343.15,632.34 1342.98,617.76 1345,616.6C1346.07,615.98 1347.99,617.04 1349.2,618.2C1351.06,620 1352.03,628.09 1353.4,628.1C1354.66,628.11 1355.85,619.72 1357.1,619.7C1358.28,619.68 1359.39,627.03 1360.7,627.1C1361.99,627.16 1363.51,620.42 1364.9,620.3C1365.98,620.21 1367.13,624.08 1368.1,623.9C1369.5,623.64 1370.71,614.46 1371.7,614.5C1372.56,614.54 1373,621.8 1373.8,621.8C1374.86,621.8 1375.99,609.41 1377.5,609.2C1378.59,609.05 1380.13,615.17 1381.2,615C1382.79,614.74 1383.44,600.57 1384.9,600.3C1385.7,600.15 1386.5,604.03 1387.5,604C1389.07,603.95 1391.39,595.23 1393.2,594.6C1394.12,594.28 1395.16,596.04 1395.9,595.6C1397.79,594.48 1397.38,577.33 1398.5,577.2C1399.12,577.13 1399.97,582.58 1400.6,582.5C1401.97,582.32 1401.53,561.14 1403.7,555.7C1404.81,552.93 1406.81,552.79 1407.9,550.1C1409.87,545.25 1408.78,530.78 1410.8,527.5C1411.58,526.24 1412.77,526.91 1413.6,525.6C1416.1,521.65 1416.23,500.9 1418.3,495.3C1419.18,492.92 1420.32,492.88 1421.2,490.6C1423.03,485.84 1423.67,467.31 1425.5,467C1426.46,466.84 1427.42,471.67 1428.7,472.7C1429.57,473.4 1430.77,472.67 1431.6,473.6C1433.74,476.01 1433.74,488.16 1435.3,493.5C1436.4,497.28 1438.03,498.79 1439.1,502.9C1440.96,510.03 1441.56,523.56 1442.9,533.1C1444.11,541.73 1445.43,549.5 1446.7,557.7C1447.97,565.9 1448.91,574.9 1450.5,582.3C1451.84,588.53 1453.63,595.22 1455.2,599.3C1456.13,601.73 1456.99,602.68 1458,604.9C1459.42,608.01 1461.05,612.71 1462.7,616.3C1464.23,619.62 1466.04,625.82 1467.5,625.7C1469.28,625.55 1470.5,610.93 1472.2,610.6C1473.1,610.42 1474.07,614.1 1475,614C1476.27,613.87 1477.55,606.79 1478.8,606.8C1480.08,606.81 1481.26,614.32 1482.6,614.4C1483.81,614.48 1485.05,608.86 1486.4,608.7C1487.54,608.56 1489,612.26 1490,612C1491.39,611.64 1491.52,603.46 1493,603C1494.08,602.66 1495.73,604.68 1497,606C1498.6,607.66 1500.26,612.73 1501.5,612.5C1503.24,612.18 1503.65,597.73 1505.2,597.4C1506.04,597.22 1507.18,601.15 1508,601C1509.2,600.78 1509.51,592.04 1510.9,591.7C1511.93,591.45 1513.6,595.71 1514.7,595.5C1516.06,595.25 1516.39,589.08 1518,588C1519.17,587.22 1521.14,588.83 1522.3,587.9C1524.51,586.12 1524.82,576.4 1526,572.8C1526.68,570.72 1527.28,569.65 1528,568C1528.77,566.22 1529.8,564.67 1530.5,562.5C1531.43,559.6 1531.79,555.03 1532.6,552C1533.23,549.61 1534.04,547.96 1534.7,545.7C1535.45,543.11 1536.15,541.02 1536.8,537.3C1538.03,530.19 1538.85,516.37 1539.9,505.9C1540.95,495.41 1542.11,485.66 1543.1,474.4C1544.24,461.41 1545.2,447.18 1546.2,432.4C1547.31,415.9 1548.32,395.13 1549.4,380C1550.23,368.43 1551.02,362.03 1551.9,349.4C1553.32,328.9 1555.05,293.34 1556.5,268.7C1557.73,247.88 1558.72,227.36 1560,211.1C1560.94,199.14 1561.83,180.05 1563,180C1563.82,179.97 1564.8,189.34 1565.7,195C1566.87,202.33 1566.66,217.21 1569.2,220.3C1570.17,221.47 1571.8,220.45 1572.7,221.5C1574.39,223.46 1574.16,230.32 1575,234.2C1575.72,237.53 1575.97,242.99 1577.3,243.4C1578.29,243.7 1580.21,239.5 1581.2,239.9C1583.52,240.85 1582.41,255.88 1583,268.7C1584.19,294.41 1585.55,352.63 1586.5,384.7C1587.17,407.41 1587.69,423.11 1588.2,442.9C1588.73,463.48 1589.13,485.87 1589.6,505.9C1590.03,524.17 1590.61,543.32 1590.9,558.3C1591.12,569.54 1590.83,577.37 1591.3,587.8C1591.83,599.63 1593.39,614.52 1594.2,625.6C1594.83,634.3 1594.21,645.41 1595.8,648.9C1596.37,650.14 1597.31,649.95 1597.9,651C1598.91,652.79 1599.3,656.6 1600,659.4C1600.7,662.2 1601.03,666.18 1602.1,667.8C1602.69,668.69 1603.64,669.59 1604.2,669.4C1605,669.13 1605.23,664.08 1605.7,664.1C1606.27,664.12 1606.73,669.21 1607.3,672C1607.95,675.14 1608.29,681.73 1609.4,682C1610.1,682.17 1611.23,678.66 1612,678.8C1613.1,679 1613.77,684.23 1614.7,686.7C1615.54,688.93 1616.47,693.03 1617.3,693C1618.21,692.97 1619.13,685.1 1619.9,685.1C1620.49,685.1 1621.03,687.92 1621.5,689.8C1622.17,692.49 1622.41,699.72 1623.1,699.8C1623.54,699.85 1624.06,696.1 1624.6,696.1C1625.24,696.1 1626.03,699.27 1626.7,701.4C1627.66,704.47 1628.11,712.68 1629.4,712.9C1630.38,713.06 1631.86,707.09 1633,707.2C1634.51,707.35 1636.06,718.29 1637.2,718.2C1638.39,718.11 1638.94,705.61 1639.9,705.6C1640.87,705.59 1641.68,718.05 1643,718.2C1644.05,718.32 1645.22,711.4 1646.7,710.8C1647.63,710.42 1648.89,712.33 1649.8,711.9C1651.47,711.1 1652.43,704.83 1653.5,701.4C1654.51,698.17 1655.27,694.86 1656.1,691.9C1656.83,689.3 1657.58,687.48 1658.2,684.6C1659.06,680.57 1659.16,673.51 1660.3,669.9C1661.02,667.62 1662.25,666.99 1663,664.6C1664.34,660.31 1664.78,651.71 1665.6,645.7C1666.34,640.22 1666.84,636.25 1667.7,630C1668.98,620.71 1670.83,603.02 1672.6,595.4C1673.5,591.52 1674.31,589.96 1675.4,586.8C1676.76,582.86 1678.66,573.64 1680.2,573.6C1681.44,573.57 1682.68,582.04 1683.8,582C1684.99,581.95 1686.12,572.26 1687.1,572.3C1688.09,572.34 1688.5,582.16 1689.7,582.4C1690.51,582.56 1691.74,578.43 1692.6,578.6C1694.05,578.9 1694.48,590.19 1696,592C1696.61,592.72 1697.36,593.14 1698,592.9C1699.22,592.45 1700.31,585.75 1701.4,585.7C1702.26,585.66 1703.04,590.01 1703.9,590C1704.87,589.99 1705.96,584.4 1706.9,584.5C1708.27,584.65 1709.31,597.47 1710.6,597.5C1711.81,597.53 1712.47,586.93 1714.4,586.2C1715.74,585.69 1718.26,589.4 1719.4,589.1C1720.27,588.87 1720.48,586.2 1721.1,586.2C1721.85,586.2 1722.7,590.44 1723.6,590.4C1724.87,590.34 1726.44,581.54 1727.8,581.5C1728.96,581.47 1730.25,587.9 1731.2,587.8C1732.27,587.68 1732.21,579.66 1733.7,579C1734.76,578.53 1736.68,581.52 1737.9,581.1C1739.66,580.49 1740.6,572.51 1742.1,572.3C1743.18,572.14 1744.36,576.08 1745.5,576.1C1746.6,576.12 1747.93,572.5 1748.8,572.7C1749.83,572.93 1750.18,579.03 1750.9,579C1751.99,578.95 1753.01,564.35 1754.3,564.3C1755.55,564.25 1757.29,577.84 1758.5,577.8C1759.64,577.76 1760.2,565.67 1761.4,565.6C1762.58,565.53 1764.41,576.91 1765.6,576.9C1766.53,576.89 1767.2,572.3 1768,570" fill="none" stroke="#000" stroke-width="2.1" stroke-linejoin="round" stroke-linecap="round"/>
<rect x="139.5" y="7" width="1627" height="825.5" fill="none" stroke="#2a2a2a" stroke-width="2.1"/>
<path d="M331.1,832.5V815.5M331.1,7V24M532.97,832.5V815.5M532.97,7V24M734.84,832.5V815.5M734.84,7V24M936.71,832.5V815.5M936.71,7V24M1138.58,832.5V815.5M1138.58,7V24M1340.45,832.5V815.5M1340.45,7V24M1542.32,832.5V815.5M1542.32,7V24M1744.19,832.5V815.5M1744.19,7V24M139.5,697.2H156.5M1766.5,697.2H1749.5M139.5,558.7H156.5M1766.5,558.7H1749.5M139.5,420.2H156.5M1766.5,420.2H1749.5M139.5,281.7H156.5M1766.5,281.7H1749.5M139.5,143.2H156.5M1766.5,143.2H1749.5" stroke="#2a2a2a" stroke-width="2.0" fill="none"/>
<text transform="translate(331.1,887.6) scale(1,1.041)" font-size="37.5" fill="#2a2a2a" text-anchor="middle" stroke="#fff" stroke-width="0.3" stroke-linejoin="round">11.5</text>
<text transform="translate(532.97,887.6) scale(1,1.041)" font-size="37.5" fill="#2a2a2a" text-anchor="middle" stroke="#fff" stroke-width="0.3" stroke-linejoin="round">12</text>
<text transform="translate(734.84,887.6) scale(1,1.041)" font-size="37.5" fill="#2a2a2a" text-anchor="middle" stroke="#fff" stroke-width="0.3" stroke-linejoin="round">12.5</text>
<text transform="translate(936.71,887.6) scale(1,1.041)" font-size="37.5" fill="#2a2a2a" text-anchor="middle" stroke="#fff" stroke-width="0.3" stroke-linejoin="round">13</text>
<text transform="translate(1138.58,887.6) scale(1,1.041)" font-size="37.5" fill="#2a2a2a" text-anchor="middle" stroke="#fff" stroke-width="0.3" stroke-linejoin="round">13.5</text>
<text transform="translate(1340.45,887.6) scale(1,1.041)" font-size="37.5" fill="#2a2a2a" text-anchor="middle" stroke="#fff" stroke-width="0.3" stroke-linejoin="round">14</text>
<text transform="translate(1542.32,887.6) scale(1,1.041)" font-size="37.5" fill="#2a2a2a" text-anchor="middle" stroke="#fff" stroke-width="0.3" stroke-linejoin="round">14.5</text>
<text transform="translate(1744.19,887.6) scale(1,1.041)" font-size="37.5" fill="#2a2a2a" text-anchor="middle" stroke="#fff" stroke-width="0.3" stroke-linejoin="round">15</text>
<text transform="translate(124,712.8) scale(1,1.041)" font-size="37.5" fill="#2a2a2a" text-anchor="end" stroke="#fff" stroke-width="0.3" stroke-linejoin="round">-0.5</text>
<text transform="translate(124,574.3) scale(1,1.041)" font-size="37.5" fill="#2a2a2a" text-anchor="end" stroke="#fff" stroke-width="0.3" stroke-linejoin="round">0</text>
<text transform="translate(124,435.8) scale(1,1.041)" font-size="37.5" fill="#2a2a2a" text-anchor="end" stroke="#fff" stroke-width="0.3" stroke-linejoin="round">0.5</text>
<text transform="translate(124,297.3) scale(1,1.041)" font-size="37.5" fill="#2a2a2a" text-anchor="end" stroke="#fff" stroke-width="0.3" stroke-linejoin="round">1</text>
<text transform="translate(124,158.8) scale(1,1.041)" font-size="37.5" fill="#2a2a2a" text-anchor="end" stroke="#fff" stroke-width="0.3" stroke-linejoin="round">1.5</text>
<text transform="translate(950.5,940.2) scale(1,1.041)" font-size="41.2" fill="#2a2a2a" text-anchor="middle" stroke="#fff" stroke-width="0.3" stroke-linejoin="round">Time [s]</text>
<text transform="translate(35.1,422) rotate(-90) scale(1,1.041)" font-size="41.2" fill="#2a2a2a" text-anchor="middle" stroke="#fff" stroke-width="0.3" stroke-linejoin="round">Voltage [mV]</text>
<text transform="translate(695,437.1) scale(1,1.041)" font-size="33.3" fill="#a20b1d" text-anchor="middle" font-weight="bold">No P</text>
<text transform="translate(695,477.5) scale(1,1.041)" font-size="33.3" fill="#a20b1d" text-anchor="middle" font-weight="bold">wave</text>
<text transform="translate(1485,437.1) scale(1,1.041)" font-size="33.3" fill="#a20b1d" text-anchor="middle" font-weight="bold">No P</text>
<text transform="translate(1485,477.5) scale(1,1.041)" font-size="33.3" fill="#a20b1d" text-anchor="middle" font-weight="bold">wave</text>
<rect x="222.45" y="709.3" width="93.5" height="93.8" rx="9" ry="9" fill="#e8f4da" stroke="#a0c869" stroke-width="3.2"/>
<text transform="translate(269.2,745.8) scale(1,1.041)" font-size="33.3" fill="#1f9a55" text-anchor="middle" stroke="#e8f4da" stroke-width="0.5" stroke-linejoin="round">AUC</text>
<text transform="translate(269.2,786) scale(1,1.041)" font-size="33.3" fill="#1f9a55" text-anchor="middle" stroke="#e8f4da" stroke-width="0.5" stroke-linejoin="round">18.9</text>
<rect x="487.25" y="709.3" width="93.5" height="93.8" rx="9" ry="9" fill="#e8f4da" stroke="#a0c869" stroke-width="3.2"/>
<text transform="translate(534,745.8) scale(1,1.041)" font-size="33.3" fill="#1f9a55" text-anchor="middle" stroke="#e8f4da" stroke-width="0.5" stroke-linejoin="round">AUC</text>
<text transform="translate(534,786) scale(1,1.041)" font-size="33.3" fill="#1f9a55" text-anchor="middle" stroke="#e8f4da" stroke-width="0.5" stroke-linejoin="round">28.7</text>
<rect x="728.85" y="709.3" width="93.5" height="93.8" rx="9" ry="9" fill="#f5e0c8" stroke="#b8692a" stroke-width="3.2"/>
<text transform="translate(775.6,745.8) scale(1,1.041)" font-size="33.3" fill="#b0702c" text-anchor="middle" stroke="#f5e0c8" stroke-width="0.5" stroke-linejoin="round">AUC</text>
<text transform="translate(775.6,786) scale(1,1.041)" font-size="33.3" fill="#b0702c" text-anchor="middle" stroke="#f5e0c8" stroke-width="0.5" stroke-linejoin="round">58.7</text>
<rect x="1024.75" y="709.3" width="93.5" height="93.8" rx="9" ry="9" fill="#e8f4da" stroke="#a0c869" stroke-width="3.2"/>
<text transform="translate(1071.5,745.8) scale(1,1.041)" font-size="33.3" fill="#1f9a55" text-anchor="middle" stroke="#e8f4da" stroke-width="0.5" stroke-linejoin="round">AUC</text>
<text transform="translate(1071.5,786) scale(1,1.041)" font-size="33.3" fill="#1f9a55" text-anchor="middle" stroke="#e8f4da" stroke-width="0.5" stroke-linejoin="round">18.1</text>
<rect x="1282.65" y="709.3" width="93.5" height="93.8" rx="9" ry="9" fill="#e8f4da" stroke="#a0c869" stroke-width="3.2"/>
<text transform="translate(1329.4,745.8) scale(1,1.041)" font-size="33.3" fill="#1f9a55" text-anchor="middle" stroke="#e8f4da" stroke-width="0.5" stroke-linejoin="round">AUC</text>
<text transform="translate(1329.4,786) scale(1,1.041)" font-size="33.3" fill="#1f9a55" text-anchor="middle" stroke="#e8f4da" stroke-width="0.5" stroke-linejoin="round">28.6</text>
<rect x="1520.65" y="709.3" width="93.5" height="93.8" rx="9" ry="9" fill="#f5e0c8" stroke="#b8692a" stroke-width="3.2"/>
<text transform="translate(1567.4,745.8) scale(1,1.041)" font-size="33.3" fill="#b0702c" text-anchor="middle" stroke="#f5e0c8" stroke-width="0.5" stroke-linejoin="round">AUC</text>
<text transform="translate(1567.4,786) scale(1,1.041)" font-size="33.3" fill="#b0702c" text-anchor="middle" stroke="#f5e0c8" stroke-width="0.5" stroke-linejoin="round">56.4</text>
<rect x="1186.5" y="37.3" width="544.8" height="98.1" fill="#fff" stroke="#000" stroke-width="3.6"/>
<text transform="translate(1204.3,75.8) scale(1,1.041)" font-size="33.3" fill="#000" font-weight="bold">Threshold AUC:</text>
<text transform="translate(1205,116) scale(1,1.041)" font-size="33.3" fill="#000">1.3&#215;<tspan font-style="italic">med</tspan>(AUCs) = 1.3&#215;23.5 = <tspan font-weight="bold">30.6</tspan></text>
</svg>
</body></html>
